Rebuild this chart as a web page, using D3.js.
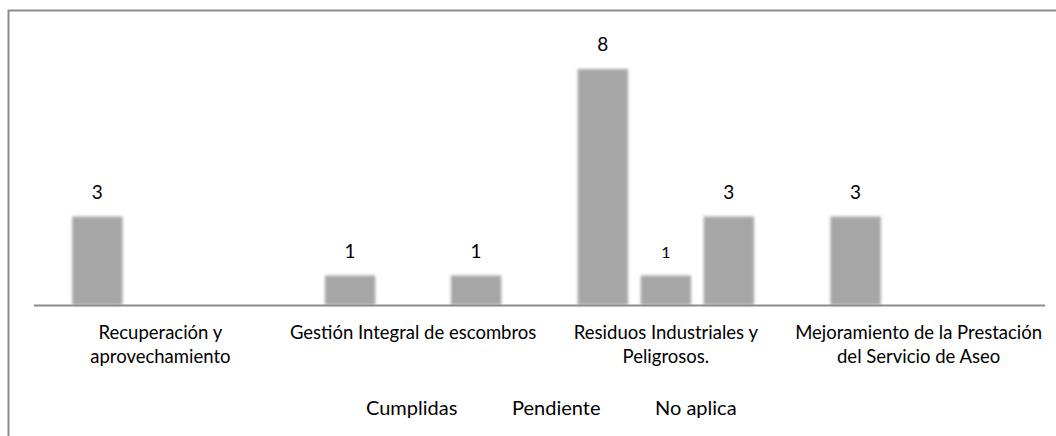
<!DOCTYPE html>
<html lang="es">
<head>
<meta charset="UTF-8">
<title>Metas por programa</title>
<style>
  body { margin: 0; background: #fff; }
  svg { display: block; }
  text { font-family: Lato, "Open Sans", sans-serif; fill: #000; }
</style>
<script src="https://d3js.org/d3.v7.min.js"></script>
</head>
<body>
<svg width="1056" height="436"></svg>
<script>
const categories = [
  ['Recuperación y', 'aprovechamiento'],
  ['Gestión Integral de escombros'],
  ['Residuos Industriales y', 'Peligrosos.'],
  ['Mejoramiento de la Prestación', 'del Servicio de Aseo']
];
const seriesNames = ['Cumplidas', 'Pendiente', 'No aplica'];
const cumplidas = [3, 1, 8, 3];
const pendiente = [0, 0, 1, 0];
const noAplica = [0, 1, 3, 0];
const seriesValues = [cumplidas, pendiente, noAplica];

const svg = d3.select('svg');

// blurred edges on the bars
svg.append('defs').append('filter')
  .attr('id', 'soft')
  .attr('x', '-20%').attr('y', '-20%')
  .attr('width', '140%').attr('height', '140%')
  .append('feGaussianBlur').attr('stdDeviation', 1.6);

// frame (left + top only)
svg.append('path')
  .attr('d', 'M 8.5 436 L 8.5 10.5 L 1056 10.5')
  .attr('fill', 'none')
  .attr('stroke', '#8c8c8c')
  .attr('stroke-width', 2);

const x0 = d3.scaleBand()
  .domain(d3.range(categories.length))
  .range([34, 1045]);

const x1 = d3.scaleBand()
  .domain(d3.range(seriesNames.length))
  .range([-94.5, 94.5])
  .paddingInner(0.2)
  .paddingOuter(0.1);

const y = d3.scaleLinear().domain([0, 10]).range([305, 10]);

const rows = [];
seriesValues.forEach((vals, s) => {
  vals.forEach((v, c) => rows.push({ s, c, v }));
});

const barX = d => x0(d.c) + x0.bandwidth() / 2 + x1(d.s);

const g = svg.append('g');

g.selectAll('rect')
  .data(rows.filter(d => d.v > 0))
  .join('rect')
  .attr('x', barX)
  .attr('width', x1.bandwidth())
  .attr('y', d => y(d.v))
  .attr('height', d => y(0) - y(d.v))
  .attr('fill', '#a6a6a6')
  .attr('filter', 'url(#soft)');

// axis line
svg.append('line')
  .attr('x1', 34).attr('x2', 1045)
  .attr('y1', y(0) + 0.5).attr('y2', y(0) + 0.5)
  .attr('stroke', '#8c8c8c')
  .attr('stroke-width', 2);

// value labels
g.selectAll('text.val')
  .data(rows.filter(d => d.v > 0))
  .join('text')
  .attr('class', 'val')
  .attr('x', d => barX(d) + x1.bandwidth() / 2)
  .attr('y', d => y(d.v) - 18)
  .attr('text-anchor', 'middle')
  .style('font-size', d => (d.s === 1 ? '16px' : '19px'))
  .text(d => d.v);

// category labels
const cat = svg.selectAll('text.cat')
  .data(categories)
  .join('text')
  .attr('class', 'cat')
  .attr('x', (d, i) => x0(i) + x0.bandwidth() / 2)
  .attr('y', 339)
  .attr('text-anchor', 'middle')
  .style('font-size', '18.5px');

cat.selectAll('tspan')
  .data(d => d)
  .join('tspan')
  .attr('x', function () { return d3.select(this.parentNode).attr('x'); })
  .attr('dy', (d, i) => (i === 0 ? 0 : 23.5))
  .text(d => d);

// legend
const legendX = [366, 512, 655];
svg.selectAll('text.leg')
  .data(seriesNames)
  .join('text')
  .attr('class', 'leg')
  .attr('x', (d, i) => legendX[i])
  .attr('y', 415)
  .style('font-size', '20px')
  .text(d => d);
</script>
</body>
</html>
